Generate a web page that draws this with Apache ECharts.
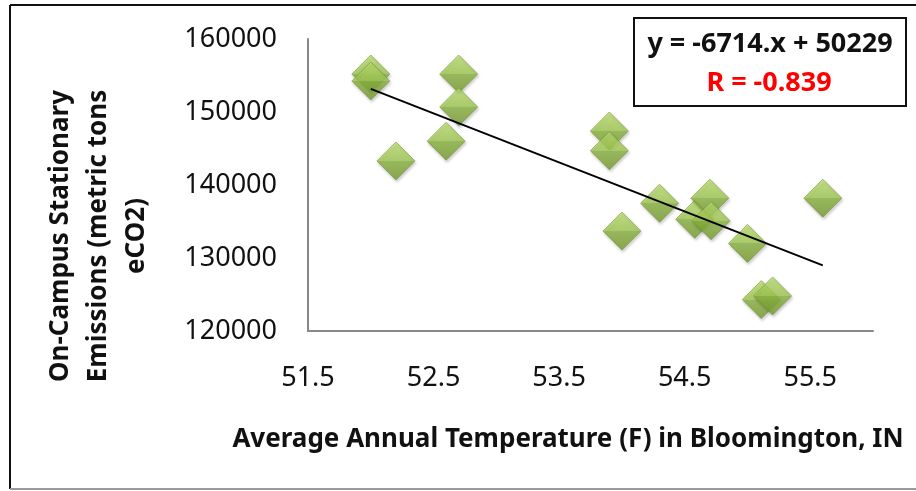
<!DOCTYPE html>
<html>
<head>
<meta charset="utf-8">
<title>Emissions vs temperature</title>
<script src="https://cdn.jsdelivr.net/npm/echarts@6/dist/echarts.min.js"></script>
<style>
  html, body { margin: 0; padding: 0; background: #fff; }
  #chart { width: 916px; height: 491px; }
</style>
</head>
<body>
<div id="chart"></div>
<script>
// data
var temps = [52.0, 52.0, 52.2, 52.7, 52.7, 52.6, 53.9, 53.9, 54.0, 54.3, 54.58, 54.7, 54.71, 55.0, 55.11, 55.2, 55.6];
var emissions = [155200, 154250, 143300, 155200, 150700, 146000, 147400, 144700, 133700, 137500, 135300, 138200, 135100, 132000, 124300, 124800, 138200];

// trendline from the box: y = -6714.x + 50229(0)
var trendSlope = -6714;
var trendIntercept = 502290;
var trendText = 'y = -6714.x + 50229';
var rText = 'R = -0.839';

var xTicks = [51.5, 52.5, 53.5, 54.5, 55.5];
var yTicks = [120000, 130000, 140000, 150000, 160000];

var points = [];
for (var i = 0; i < temps.length; i++) {
    points.push([temps[i], emissions[i]]);
}
var xLo = Math.min.apply(null, temps);
var xHi = Math.max.apply(null, temps);
var trend = [
    [xLo, trendSlope * xLo + trendIntercept],
    [xHi, trendSlope * xHi + trendIntercept]
];

var font = '"Noto Sans", sans-serif';

var option = {
    animation: false,
    backgroundColor: '#fff',
    grid: { left: 308, right: 43, top: 39, bottom: 160 },
    xAxis: {
        type: 'value',
        min: xTicks[0],
        max: 56,
        interval: 1,
        splitLine: { show: false },
        axisTick: { show: false },
        axisLine: { lineStyle: { color: '#888', width: 2 } },
        axisLabel: {
            margin: 34,
            fontSize: 27,
            fontFamily: font,
            color: '#111',
            showMaxLabel: false,
            formatter: function (v) { return v.toFixed(1); }
        }
    },
    yAxis: {
        type: 'value',
        min: yTicks[0],
        max: yTicks[yTicks.length - 1],
        interval: 10000,
        splitLine: { show: false },
        axisTick: { show: false },
        axisLine: { show: true, lineStyle: { color: '#888', width: 2 } },
        axisLabel: {
            margin: 31,
            fontSize: 27,
            fontFamily: font,
            color: '#111',
            formatter: function (v) { return String(v); }
        }
    },
    series: [
        {
            type: 'scatter',
            data: points,
            symbol: 'diamond',
            symbolSize: 38,
            itemStyle: {
                color: new echarts.graphic.LinearGradient(0, 0, 0, 1, [
                    { offset: 0, color: '#bde070' },
                    { offset: 0.5, color: '#a0c852' },
                    { offset: 0.5, color: '#8ab340' },
                    { offset: 1, color: '#769a30' }
                ]),
                borderColor: '#789a36',
                borderWidth: 0.8,
                shadowBlur: 3,
                shadowColor: 'rgba(0,0,0,0.25)',
                shadowOffsetX: 1,
                shadowOffsetY: 2
            },
            z: 2
        },
        {
            type: 'line',
            data: trend,
            symbol: 'none',
            lineStyle: { color: '#000', width: 2 },
            z: 3
        }
    ],
    graphic: [
        // outer frame
        { type: 'line', shape: { x1: 10, y1: 5, x2: 916, y2: 5 }, style: { stroke: '#111', lineWidth: 2 } },
        { type: 'line', shape: { x1: 10, y1: 5, x2: 10, y2: 489 }, style: { stroke: '#111', lineWidth: 2 } },
        { type: 'line', shape: { x1: 10, y1: 489, x2: 916, y2: 489 }, style: { stroke: '#999', lineWidth: 2 } },
        // equation box
        {
            type: 'rect',
            shape: { x: 634, y: 18, width: 272, height: 88 },
            style: { fill: '#fff', stroke: '#111', lineWidth: 2 },
            z: 10
        },
        {
            type: 'text',
            x: 770, y: 44,
            style: {
                text: trendText, fill: '#111', font: 'bold 27px ' + font,
                align: 'center', verticalAlign: 'middle'
            },
            z: 11
        },
        {
            type: 'text',
            x: 769, y: 83,
            style: {
                text: rText, fill: '#ff0000', font: 'bold 27px ' + font,
                align: 'center', verticalAlign: 'middle'
            },
            z: 11
        },
        // axis titles
        {
            type: 'text',
            x: 568, y: 440,
            style: {
                text: 'Average Annual Temperature (F) in Bloomington, IN',
                fill: '#111', font: 'bold 26px ' + font,
                align: 'center', verticalAlign: 'middle'
            }
        },
        {
            type: 'text',
            x: 99, y: 236,
            rotation: Math.PI / 2,
            style: {
                text: 'On-Campus Stationary\nEmissions (metric tons\neCO2)',
                fill: '#111', font: 'bold 26px ' + font, lineHeight: 38,
                align: 'center', verticalAlign: 'middle'
            }
        }
    ]
};

var myChart = echarts.init(document.getElementById('chart'));
myChart.setOption(option);
</script>
</body>
</html>
